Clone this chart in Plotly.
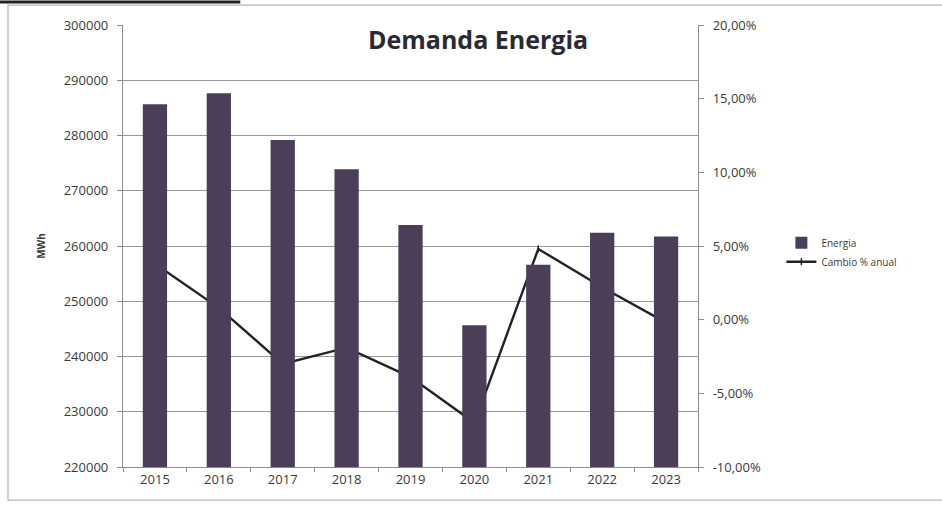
import plotly.graph_objects as go

# Annual energy demand (MWh) and year-over-year change
years = ["2015", "2016", "2017", "2018", "2019", "2020", "2021", "2022", "2023"]
energia_mwh = [285650, 287650, 279200, 273900, 263800, 245650, 256600, 262400, 261700]
cambio_anual = [0.038, 0.008, -0.030, -0.019, -0.039, -0.070, 0.048, 0.022, -0.002]

left_ticks = [220000, 230000, 240000, 250000, 260000, 270000, 280000, 290000, 300000]
right_ticks = [-0.10, -0.05, 0.0, 0.05, 0.10, 0.15, 0.20]
right_labels = ["-10,00%", "-5,00%", "0,00%", "5,00%", "10,00%", "15,00%", "20,00%"]

font_family = "Open Sans, Lato, sans-serif"
axis_grey = "#8c8c8c"
text_col = "#3a3a3a"

fig = go.Figure()

# The change line sits on the base axis (drawn first), the columns on the
# overlaying axis so they paint over the line.
fig.add_trace(go.Scatter(
    x=years, y=cambio_anual, name="Cambio % anual",
    mode="lines+markers",
    line=dict(color="#222222", width=2.4),
    marker=dict(symbol="line-ns", size=5, line=dict(width=1.5, color="#222222"), color="#222222"),
    yaxis="y", legendrank=2,
))

fig.add_trace(go.Bar(
    x=years, y=energia_mwh, name="Energia",
    marker=dict(color="#4b3e58", line=dict(width=0)),
    yaxis="y2", legendrank=1,
))

fig.update_layout(
    width=942, height=508,
    margin=dict(l=123, r=244, t=25, b=41),
    paper_bgcolor="white", plot_bgcolor="white",
    font=dict(family=font_family, size=10, color=text_col),
    bargap=0.62,
    showlegend=True,
    legend=dict(
        x=1.145, y=0.486, xanchor="left", yanchor="middle",
        font=dict(size=10, color=text_col),
        bgcolor="rgba(0,0,0,0)", itemwidth=30, tracegroupgap=2,
    ),
    xaxis=dict(
        type="category", showgrid=False,
        showline=True, linecolor=axis_grey, linewidth=1.2,
        ticks="outside", ticklen=4, tickcolor=axis_grey,
        tickson="boundaries",
        tickfont=dict(size=13, color=text_col),
    ),
    yaxis=dict(
        side="right",
        range=[-0.10, 0.20], tickvals=right_ticks, ticktext=right_labels,
        showgrid=False, zeroline=False,
        showline=True, linecolor=axis_grey, linewidth=1.2,
        ticks="outside", ticklen=5, tickcolor=axis_grey,
        ticklabelstandoff=6,
        tickfont=dict(size=13, color=text_col),
    ),
    yaxis2=dict(
        overlaying="y", side="left",
        range=[220000, 300000], tickvals=left_ticks, tickformat="d",
        showgrid=True, gridcolor="#979797", gridwidth=1.3,
        showline=True, linecolor=axis_grey, linewidth=1.2,
        ticks="outside", ticklen=5, tickcolor=axis_grey,
        ticklabelstandoff=6,
        tickfont=dict(size=13, color=text_col),
        title=dict(text="<b>MWh</b>", font=dict(size=10, color=text_col), standoff=16),
        zeroline=False,
    ),
    annotations=[dict(
        text="<b>Demanda Energia</b>", xref="paper", yref="paper",
        x=0.617, y=0.968, xanchor="center", yanchor="middle",
        showarrow=False, font=dict(size=25, color="#2a2a35", family=font_family),
    )],
    shapes=[
        # outer chart frame
        dict(type="rect", xref="paper", yref="paper",
             x0=-0.2, x1=1.45, y0=-0.075, y1=1.045,
             line=dict(color="#b5b5b5", width=1.2), layer="below"),
        # dark rule above the chart frame
        dict(type="line", xref="paper", yref="paper",
             x0=-0.214, x1=0.204, y0=1.052, y1=1.052,
             line=dict(color="#222222", width=3)),
    ],
)

fig.write_html("out.html")
